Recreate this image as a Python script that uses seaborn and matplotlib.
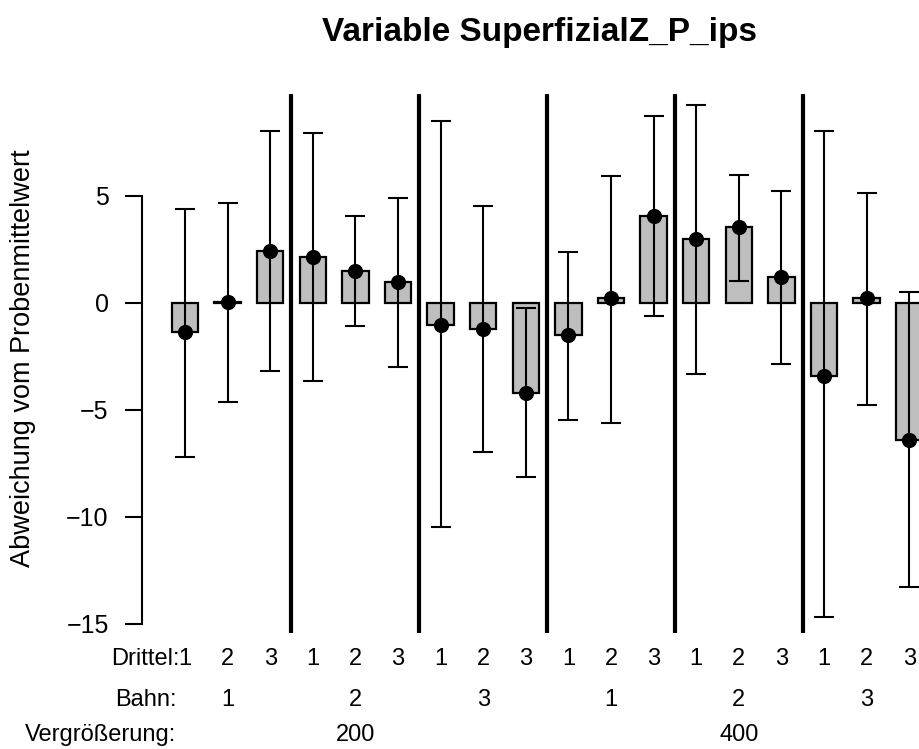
import numpy as np
import pandas as pd
import matplotlib
matplotlib.use("Agg")
import matplotlib.pyplot as plt
import seaborn as sns

# ---- data ----
drittel = ["1", "2", "3"] * 6
bahn = ["1", "2", "3", "1", "2", "3"]
vergroesserung = ["200", "400"]
means = [-1.39, 0.03, 2.43, 2.15, 1.48, 0.96, -1.05, -1.22, -4.21,
         -1.51, 0.20, 4.03, 2.99, 3.52, 1.21, -3.41, 0.20, -6.41]
upper = [4.36, 4.66, 8.00, 7.92, 4.06, 4.88, 8.47, 4.53, -0.25,
         2.38, 5.94, 8.71, 9.23, 5.99, 5.22, 8.00, 5.12, 0.49]
lower = [-7.21, -4.65, -3.19, -3.66, -1.09, -3.02, -10.50, -6.96, -8.15,
         -5.49, -5.62, -0.64, -3.32, 1.01, -2.85, -14.70, -4.78, -13.30]
y_ticks = [-15, -10, -5, 0, 5]
title = "Variable SuperfizialZ_P_ips"
ylabel = "Abweichung vom Probenmittelwert"

sns.set_theme(style="white")
plt.rcParams["font.family"] = ["Liberation Sans", "DejaVu Sans"]
plt.rcParams["text.color"] = "black"
plt.rcParams["axes.labelcolor"] = "black"

W, H = 920, 749
fig = plt.figure(figsize=(W / 100, H / 100), dpi=100)
left_px, right_px, top_px, bot_px = 142, 920, 94, 633
ax = fig.add_axes([left_px / W, (H - bot_px) / H,
                   (right_px - left_px) / W, (bot_px - top_px) / H])

n = len(means)
pos = np.arange(n)
df = pd.DataFrame({"pos": pos, "mean": means, "lo": lower, "hi": upper})

sns.barplot(data=df, x="pos", y="mean", color="#bebebe", saturation=1,
            width=0.62, edgecolor="black", linewidth=1.6, errorbar=None,
            ax=ax, zorder=2)
for p in ax.patches:
    p.set_facecolor("#bebebe")
    p.set_edgecolor("black")

m = np.array(means)
yerr = np.vstack([m - np.array(lower), np.array(upper) - m])
ax.errorbar(pos, m, yerr=yerr, fmt="none", ecolor="black", elinewidth=1.5,
            capsize=7, capthick=1.5, zorder=3)
sns.scatterplot(x=pos, y=m, color="black", s=120, edgecolor="black",
                linewidth=0, ax=ax, zorder=4, legend=False)

# separators between Bahn groups
for k in range(1, 6):
    ax.axvline(3 * k - 0.5, color="black", lw=3.0, zorder=5)

x_lo = (left_px - 185) / 42.6
x_hi = (right_px - 185) / 42.6
ax.set_xlim(x_lo, x_hi)
y_top = (302.7 - top_px) / 21.4
y_bot = (302.7 - bot_px) / 21.4
ax.set_ylim(y_bot, y_top)

for s in ["top", "right", "bottom"]:
    ax.spines[s].set_visible(False)
ax.spines["left"].set_color("black")
ax.spines["left"].set_linewidth(1.5)
ax.spines["left"].set_bounds(-15, 5)
ax.set_yticks(y_ticks)
ax.set_yticklabels([str(t).replace("-", "\u2212") for t in y_ticks])
ax.tick_params(axis="y", direction="out", length=12, width=1.5,
               pad=12, labelsize=18, left=True, colors="black")
ax.set_xticks([])
ax.set_xlabel("")
ax.set_ylabel(ylabel, fontsize=19.5, color="black")
ax.yaxis.set_label_coords(-0.136, 0.51)
ax.patch.set_alpha(0)

# group labels below the plot
def ydata(px):
    return (302.7 - px) / 21.4

fs = 17
ax.text(-0.13, ydata(659), "Drittel:", ha="right", va="center", fontsize=fs, clip_on=False)
ax.text(-0.2, ydata(700), "Bahn:", ha="right", va="center", fontsize=fs, clip_on=False)
ax.text(-0.2, ydata(735), "Vergrößerung:", ha="right", va="center", fontsize=fs, clip_on=False)
for i, d in enumerate(drittel):
    ax.text(pos[i], ydata(659), d, ha="center", va="center", fontsize=fs, clip_on=False)
for j, b in enumerate(bahn):
    ax.text(3 * j + 1, ydata(700), b, ha="center", va="center", fontsize=fs, clip_on=False)
for j, v in enumerate(vergroesserung):
    ax.text(9 * j + 4, ydata(735), v, ha="center", va="center", fontsize=fs, clip_on=False)

fig.text(540 / W, 1 - 33 / H, title, ha="center", va="center",
         fontsize=24, fontweight="bold", color="black")

fig.savefig("out.png", dpi=100)
